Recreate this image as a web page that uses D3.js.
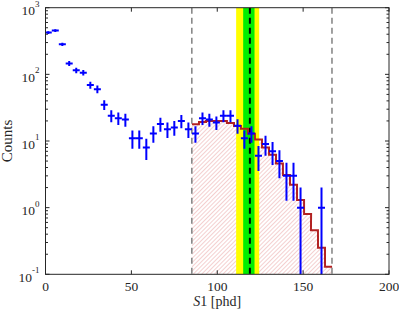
<!DOCTYPE html>
<html>
<head>
<meta charset="utf-8">
<script src="https://cdn.jsdelivr.net/npm/d3@7"></script>
<style>
  html, body { margin: 0; padding: 0; background: #fff; }
  svg { display: block; }
  text { font-family: "Liberation Serif", "DejaVu Serif", serif; fill: #262626; }
</style>
</head>
<body>
<svg id="chart" width="399" height="312"></svg>
<script>
// ---- data ----
const binCenters = [1.6, 5.7, 9.8, 13.8, 17.9, 22.0, 26.1, 30.2, 34.2, 38.3,
                    42.4, 46.5, 50.6, 54.6, 58.7, 62.8, 66.9, 71.0, 75.0, 79.1,
                    83.2, 87.3, 91.4, 95.4, 99.5, 103.6, 107.7, 111.8, 115.8, 119.9,
                    124.0, 128.1, 132.2, 136.2, 140.3, 144.4, 148.5, 152.6, 156.6, 160.7];
const counts = [423, 453, 282, 146, 115, 106, 69, 60, 35, 24,
                22, 21, 11, 11, 8, 13, 18, 15, 16, 20,
                15, 13, 22, 21, 19, 24, 24, 17, 11, 13,
                6, 9, 7, 5, 3, 3, 1, 0, 0, 1];
const binHalfWidth = 2.04;

const histCenters = [87.3, 91.4, 95.4, 99.5, 103.6, 107.7, 111.8, 115.8, 119.9, 124.0,
                     128.1, 132.2, 136.2, 140.3, 144.4, 148.5, 152.6, 156.6, 160.7, 164.8];
const histValues  = [17.8, 19.3, 19.9, 19.9, 19.9, 18.6, 16.8, 15.3, 12.9, 10.5,
                     8.0, 6.2, 4.6, 3.1, 2.2, 1.3, 0.8, 0.46, 0.25, 0.13];

const windowEdges = [85.2, 166.8];
const signalCenter = 119.0;
const band1 = [115.1, 121.7];   // green
const band2 = [111.0, 124.4];   // yellow

const xTicks = [0, 50, 100, 150, 200];
const yTicks = [0.1, 1, 10, 100, 1000];
const yTickExp = ["-1", "0", "1", "2", "3"];

// ---- layout ----
const svg = d3.select("#chart");
const L = 45.5, R = 389, T = 7.7, B = 274.3;
const x = d3.scaleLinear().domain([0, 200]).range([L, R]);
const y = d3.scaleLog().domain([0.1, 1000]).range([B, T]);
const axisColor = "#262626";

const defs = svg.append("defs");
defs.append("clipPath").attr("id", "clip")
  .append("rect").attr("x", L).attr("y", T).attr("width", R - L).attr("height", B - T);
const pat = defs.append("pattern").attr("id", "hatch")
  .attr("patternUnits", "userSpaceOnUse").attr("width", 3).attr("height", 3)
  .attr("patternTransform", "rotate(45)");
pat.append("line").attr("x1", 0).attr("y1", 0).attr("x2", 0).attr("y2", 3)
  .attr("stroke", "#e38a8a").attr("stroke-width", 0.8);

const plot = svg.append("g").attr("clip-path", "url(#clip)");

// hatched area under histogram
const stepPts = [];
histCenters.forEach((c, i) => {
  stepPts.push([c - binHalfWidth, histValues[i]]);
  stepPts.push([c + binHalfWidth, histValues[i]]);
});
const areaGen = d3.area().x(d => x(d[0])).y0(B + 5).y1(d => y(d[1]));
plot.append("path").datum(stepPts).attr("d", areaGen)
  .attr("fill", "url(#hatch)").attr("stroke", "none");

// bands
plot.append("rect").attr("x", x(band2[0])).attr("width", x(band2[1]) - x(band2[0]))
  .attr("y", T).attr("height", B - T).attr("fill", "#ffff00");
plot.append("rect").attr("x", x(band1[0])).attr("width", x(band1[1]) - x(band1[0]))
  .attr("y", T).attr("height", B - T).attr("fill", "#00ee00");

// dashed window lines
windowEdges.forEach(v => {
  plot.append("line").attr("x1", x(v)).attr("x2", x(v)).attr("y1", T).attr("y2", B)
    .attr("stroke", "#808080").attr("stroke-width", 1.5).attr("stroke-dasharray", "6,4");
});
plot.append("line").attr("x1", x(signalCenter)).attr("x2", x(signalCenter)).attr("y1", T).attr("y2", B)
  .attr("stroke", "#000").attr("stroke-width", 2).attr("stroke-dasharray", "6,4");

// histogram outline (steps only)
const lineGen = d3.line().x(d => x(d[0])).y(d => y(d[1]));
plot.append("path").datum(stepPts).attr("d", lineGen)
  .attr("fill", "none").attr("stroke", "#b22222").attr("stroke-width", 2);

// data points with error bars
const pts = binCenters.map((c, i) => ({ c, n: counts[i] })).filter(d => d.n > 0);
const eg = plot.append("g").attr("stroke", "#0000ff").attr("stroke-width", 2);
pts.forEach(d => {
  const s = Math.sqrt(d.n);
  const lo = d.n - s > 0 ? y(d.n - s) : B + 5;
  eg.append("line").attr("x1", x(d.c)).attr("x2", x(d.c)).attr("y1", y(d.n + s)).attr("y2", lo);
  eg.append("line").attr("x1", x(d.c - binHalfWidth)).attr("x2", x(d.c + binHalfWidth))
    .attr("y1", y(d.n)).attr("y2", y(d.n));
});

// ---- axes box & ticks ----
const ax = svg.append("g").attr("stroke", axisColor).attr("fill", "none");
ax.append("rect").attr("x", L).attr("y", T).attr("width", R - L).attr("height", B - T)
  .attr("stroke-width", 1);
xTicks.forEach(v => {
  ax.append("line").attr("x1", x(v)).attr("x2", x(v)).attr("y1", B).attr("y2", B - 4);
  ax.append("line").attr("x1", x(v)).attr("x2", x(v)).attr("y1", T).attr("y2", T + 4);
});
yTicks.forEach((v, i) => {
  ax.append("line").attr("x1", L).attr("x2", L + 4).attr("y1", y(v)).attr("y2", y(v));
  ax.append("line").attr("x1", R).attr("x2", R - 4).attr("y1", y(v)).attr("y2", y(v));
  if (i < yTicks.length - 1) {
    for (let m = 2; m <= 9; m++) {
      const yy = y(v * m);
      ax.append("line").attr("x1", L).attr("x2", L + 2.5).attr("y1", yy).attr("y2", yy);
      ax.append("line").attr("x1", R).attr("x2", R - 2.5).attr("y1", yy).attr("y2", yy);
    }
  }
});

// tick labels
xTicks.forEach(v => {
  svg.append("text").attr("x", x(v)).attr("y", 290.5).attr("text-anchor", "middle")
    .attr("font-size", 13.5).text(v);
});
yTicks.forEach((v, i) => {
  const t = svg.append("text").attr("x", 39.5).attr("y", y(v) + 7.5).attr("text-anchor", "end")
    .attr("font-size", 13.5);
  t.append("tspan").text("10");
  t.append("tspan").attr("dy", -8.5).attr("font-size", 9).text(yTickExp[i]);
});

// axis titles
const xt = svg.append("text").attr("x", (L + R) / 2).attr("y", 306).attr("text-anchor", "middle")
  .attr("font-size", 14);
xt.append("tspan").attr("font-style", "italic").text("S");
xt.append("tspan").text("1 [phd]");
svg.append("text").attr("transform", `translate(12,${(T + B) / 2}) rotate(-90)`)
  .attr("text-anchor", "middle").attr("font-size", 15).text("Counts");
</script>
</body>
</html>
